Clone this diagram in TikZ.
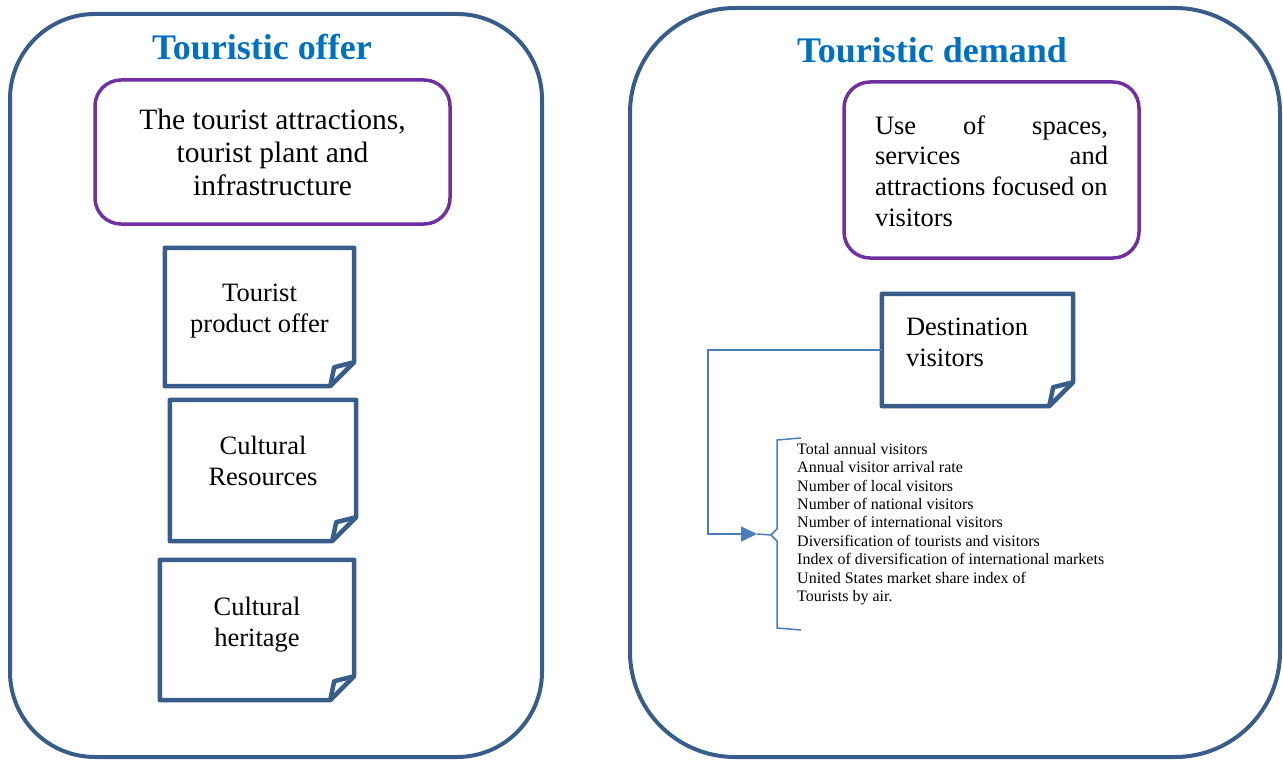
\documentclass[tikz,border=0pt]{standalone}
\usepackage{fontspec}
\setmainfont{Liberation Serif}
\usetikzlibrary{arrows.meta}
\definecolor{boxblue}{HTML}{385D8A}
\definecolor{linkblue}{HTML}{4A7EBB}
\definecolor{titleblue}{HTML}{0070C0}
\definecolor{boxpurple}{HTML}{7030A0}
\tikzstyle{bigbox}=[%
  draw=boxblue,
  line width=4pt,
  inner sep=0pt
]
\tikzstyle{title}=[%
  text=titleblue,
  font=\fontsize{36}{40}\selectfont\bfseries
]
\tikzstyle{purplebox}=[%
  draw=boxpurple,
  line width=3.5pt,
  rounded corners=26pt,
  align=center
]
\tikzstyle{note}=[%
  inner sep=0pt
]
\tikzstyle{notetext}=[%
  inner sep=0pt,
  align=center,
  font=\fontsize{26.5}{31}\selectfont
]
\tikzstyle{noteline}=[%
  draw=boxblue,
  line width=4.5pt,
  line join=round
]
\tikzstyle{link}=[%
  draw=linkblue,
  line width=1.5pt
]

\begin{document}
\begin{tikzpicture}[x=1pt, y=-1pt]
      \useasboundingbox (0,0) rectangle (1283,760);
      % the two big frames
      \node[bigbox, rounded corners=85pt, minimum width=532pt, minimum height=743pt] (offer) at (276,385.5) {};
      \node[bigbox, rounded corners=105pt, minimum width=650pt, minimum height=749pt] (demand) at (955,382.5) {};
      \node[title] (offertitle) at (262,47) {Touristic offer};
      \node[title] (demandtitle) at (932,50) {Touristic demand};
      % purple boxes
      \node[purplebox, minimum width=355pt, minimum height=144pt,
        font=\fontsize{29.5}{33}\selectfont] (attr) at (272.5,152)
        {The tourist attractions,\\tourist plant and\\infrastructure};
      \node[purplebox, minimum width=295pt, minimum height=176pt] (use) at (991.5,170) {};
      \node[inner sep=0pt, align=left, font=\fontsize{26.5}{30.7}\selectfont] (usetext) at (991.5,171)
        {\makebox[233pt][s]{Use of spaces,}\\\makebox[233pt][s]{services and}\\attractions focused on\\visitors};
      % notes with folded corner
      \node[note, minimum width=189pt, minimum height=138pt] (prod) at (259.5,317) {};
      \node[note, minimum width=186pt, minimum height=141pt] (res) at (263,470.5) {};
      \node[note, minimum width=194pt, minimum height=140pt] (heri) at (257,630) {};
      \node[note, minimum width=191pt, minimum height=112pt] (dest) at (977.5,350) {};
      \foreach \n in {prod, res, heri, dest} {%
        \draw[noteline] (\n.north west) -- (\n.north east) -- ([yshift=24pt]\n.south east)
          -- ([xshift=-24pt]\n.south east) -- (\n.south west) -- cycle;
        \draw[noteline] ([yshift=24pt]\n.south east) -- ([xshift=-20pt,yshift=19pt]\n.south east)
          -- ([xshift=-24pt]\n.south east);
      }
      \node[notetext] (prodtext) at ([yshift=5.5pt]prod.center) {Tourist\\product offer};
      \node[notetext] (restext) at ([yshift=9.5pt]res.center) {Cultural\\Resources};
      \node[notetext] (heritext) at ([yshift=5.5pt]heri.center) {Cultural\\heritage};
      \node[notetext, anchor=west, align=left] (desttext) at ([xshift=24pt,yshift=7.5pt]dest.west) {Destination\\visitors};
      % indicators list with bracket
      \coordinate (bend) at (708,534);
      \coordinate (arrowend) at (757,534);
      \coordinate (brtip) at (771,535);
      \draw[link, -{Triangle[length=16pt,width=15pt]}] (dest.west) -| (bend) -- (arrowend);
      \draw[link] (arrowend) -- (brtip);
      \draw[link] (801,438) -- (777,440) -- (777,529) -- (brtip) -- (777,541) -- (777,628) -- (801,630);
      \node[anchor=north west, inner sep=0pt, align=left, font=\fontsize{16}{18.4}\selectfont] (list) at (797,443)
        {Total annual visitors\\Annual visitor arrival rate\\Number of local visitors\\Number of national visitors\\%
         Number of international visitors\\Diversification of tourists and visitors\\%
         Index of diversification of international markets\\United States market share index of\\Tourists by air.};
    \end{tikzpicture}
\end{document}
